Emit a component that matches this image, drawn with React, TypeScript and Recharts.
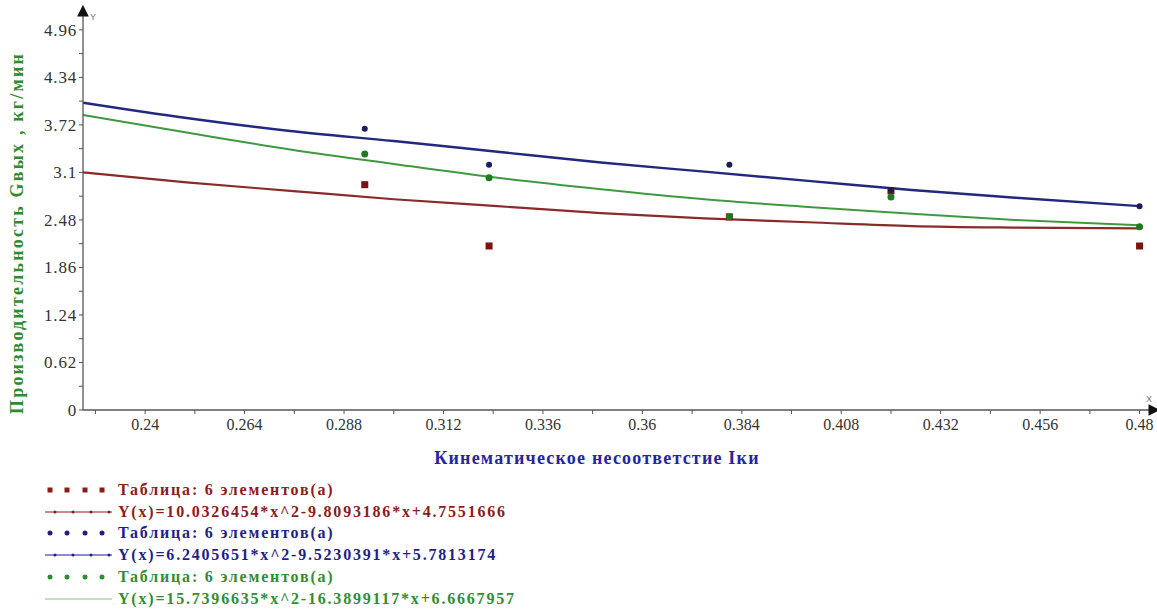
import { ComposedChart, Line, Scatter, XAxis, YAxis } from 'recharts';

// fitted curves
const xFit = [0.225, 0.25, 0.275, 0.3, 0.325, 0.35, 0.375, 0.4, 0.425, 0.45, 0.48];
const redFit = [3.1, 2.97, 2.86, 2.75, 2.66, 2.57, 2.5, 2.45, 2.4, 2.38, 2.37];
const blueFit = [4.01, 3.81, 3.64, 3.51, 3.37, 3.23, 3.11, 2.99, 2.87, 2.77, 2.66];
const greenFit = [3.85, 3.62, 3.4, 3.21, 3.03, 2.88, 2.75, 2.65, 2.56, 2.48, 2.41];

// measured points (tables)
const xPts = [0.293, 0.323, 0.381, 0.42, 0.48];
const redPts = [2.94, 2.14, 2.52, 2.86, 2.14];
const bluePts = [3.67, 3.2, 3.2, 2.87, 2.66];
const greenPts = [3.34, 3.03, 2.52, 2.78, 2.39];

const yTickLabels = ['0', '0.62', '1.24', '1.86', '2.48', '3.1', '3.72', '4.34', '4.96'];
const xTickLabels = ['0.24', '0.264', '0.288', '0.312', '0.336', '0.36', '0.384', '0.408', '0.432', '0.456', '0.48'];

const legendLabels = [
  'Таблица: 6 элементов(а)',
  'Y(x)=10.0326454*x^2-9.8093186*x+4.7551666',
  'Таблица: 6 элементов(а)',
  'Y(x)=6.2405651*x^2-9.5230391*x+5.7813174',
  'Таблица: 6 элементов(а)',
  'Y(x)=15.7396635*x^2-16.3899117*x+6.6667957',
];

const RED = '#8a2a2a';
const BLUE = '#23287e';
const GREEN = '#3f9a3f';
const SERIF = '"Liberation Serif", "Times New Roman", serif';

const toRows = (xs: number[], ys: number[]) => xs.map((x, i) => ({ x, y: ys[i] }));

const yMajor = yTickLabels.map(Number);
const yTicks: number[] = [];
yMajor.forEach((v, i) => {
  yTicks.push(v);
  if (i < yMajor.length - 1) yTicks.push(+((v + yMajor[i + 1]) / 2).toFixed(3));
});
const xMajor = xTickLabels.map(Number);
const xTicks: number[] = [0.228];
xMajor.forEach((v, i) => {
  xTicks.push(v);
  if (i < xMajor.length - 1) xTicks.push(+((v + xMajor[i + 1]) / 2).toFixed(3));
});

const fmt = (labels: string[], v: number) => {
  const i = labels.findIndex((l) => Math.abs(Number(l) - v) < 1e-6);
  return i >= 0 ? labels[i] : '';
};

const XTick = (p: any) => (
  <text x={p.x} y={p.y} dy="0.75em" textAnchor="middle" fontFamily={SERIF} fontSize={16} fill="#333">
    {fmt(xTickLabels, p.payload.value)}
  </text>
);
const YTick = (p: any) => (
  <text x={p.x} y={p.y} dy="0.35em" textAnchor="end" fontFamily={SERIF} fontSize={17} letterSpacing={0.8} fill="#333">
    {fmt(yTickLabels, p.payload.value)}
  </text>
);

const SquareDot = (p: any) => <rect x={p.cx - 3.5} y={p.cy - 3.5} width={7} height={7} fill="#7a1212" />;
const BlueDot = (p: any) => <circle cx={p.cx} cy={p.cy} r={3} fill="#1b1b5e" />;
const GreenDot = (p: any) => <circle cx={p.cx} cy={p.cy} r={3.5} fill="#1f7a1f" />;

const legendColors = ['#8b1c1c', '#8b1c1c', '#1f1f8a', '#1f1f8a', '#2f8f2f', '#2f8f2f'];

const LegendSymbol = ({ row }: { row: number }) => {
  const c = legendColors[row];
  if (row % 2 === 0) {
    return (
      <svg width={70} height={10}>
        {[7, 24, 42, 59].map((cx) =>
          row === 0 ? (
            <rect key={cx} x={cx - 2.5} y={2.5} width={5} height={5} fill={c} />
          ) : (
            <circle key={cx} cx={cx} cy={5} r={2.5} fill={c} />
          )
        )}
      </svg>
    );
  }
  if (row === 5) {
    return (
      <svg width={70} height={10}>
        <line x1={2} y1={5} x2={69} y2={5} stroke="#a8d8a8" strokeWidth={1.5} />
      </svg>
    );
  }
  return (
    <svg width={70} height={10}>
      <line x1={2} y1={5} x2={69} y2={5} stroke={c} strokeWidth={1.2} />
      {[12, 30, 48, 66].map((cx) => (
        <circle key={cx} cx={cx} cy={5} r={1.5} fill={c} />
      ))}
    </svg>
  );
};

const App = () => {
  return (
    <div style={{ position: 'absolute', left: 0, top: 0, width: 1157, height: 612, background: '#fff', fontFamily: SERIF }}>
      <ComposedChart width={1157} height={612} margin={{ top: 13, right: 5, left: 0, bottom: 0 }}>
        <defs>
          <marker id="arr" viewBox="0 0 10 10" refX="3" refY="5" markerWidth="9" markerHeight="9" orient="auto-start-reverse">
            <path d="M0,0 L10,5 L0,10 z" fill="#111" />
          </marker>
        </defs>
        <XAxis
          type="number"
          dataKey="x"
          domain={[0.225, 0.483]}
          allowDataOverflow
          ticks={xTicks}
          interval={0}
          height={202}
          tickSize={4}
          tickMargin={4}
          tick={XTick}
          axisLine={{ stroke: '#555', strokeWidth: 1.3, markerEnd: 'url(#arr)' }}
          tickLine={{ stroke: '#555' }}
          label={{
            content: () => (
              <text
                x={597}
                y={464}
                textAnchor="middle"
                fontFamily={SERIF}
                fontSize={18}
                fontWeight="bold"
                letterSpacing={1.2}
                fill="#2424a8"
              >
                Кинематическое несоответстие Iки
              </text>
            ),
          }}
        />
        <YAxis
          type="number"
          domain={[0, 5.18]}
          allowDataOverflow
          ticks={yTicks}
          interval={0}
          width={83}
          tickSize={4}
          tickMargin={2}
          tick={YTick}
          axisLine={{ stroke: '#555', strokeWidth: 1.3, markerStart: 'url(#arr)' }}
          tickLine={{ stroke: '#555' }}
          label={{
            content: () => (
              <text
                x={23}
                y={233}
                textAnchor="middle"
                transform="rotate(-90 23 233)"
                fontFamily={SERIF}
                fontSize={18}
                fontWeight="bold"
                letterSpacing={2.2}
                fill="#2e8b2e"
              >
                Производительность Gвых , кг/мин
              </text>
            ),
          }}
        />
        <text x={90} y={20} fontFamily="Liberation Sans" fontSize={9} fill="#777">
          Y
        </text>
        <text x={1146} y={402} fontFamily="Liberation Sans" fontSize={9} fill="#777">
          X
        </text>
        <Line data={toRows(xFit, redFit)} dataKey="y" type="monotone" stroke={RED} strokeWidth={2.2} dot={false} isAnimationActive={false} />
        <Line data={toRows(xFit, blueFit)} dataKey="y" type="monotone" stroke={BLUE} strokeWidth={2.4} dot={false} isAnimationActive={false} />
        <Line data={toRows(xFit, greenFit)} dataKey="y" type="monotone" stroke={GREEN} strokeWidth={2} dot={false} isAnimationActive={false} />
        <Scatter data={toRows(xPts, redPts)} dataKey="y" shape={SquareDot} isAnimationActive={false} />
        <Scatter data={toRows(xPts, bluePts)} dataKey="y" shape={BlueDot} isAnimationActive={false} />
        <Scatter data={toRows(xPts, greenPts)} dataKey="y" shape={GreenDot} isAnimationActive={false} />
      </ComposedChart>
      <div style={{ position: 'absolute', left: 43, top: 479 }}>
        {legendLabels.map((label, i) => (
          <div key={i} style={{ display: 'flex', alignItems: 'center', height: 21.8 }}>
            <LegendSymbol row={i} />
            <span
              style={{
                marginLeft: 5,
                fontFamily: SERIF,
                fontWeight: 'bold',
                fontSize: 16,
                letterSpacing: 1.8,
                color: legendColors[i],
                whiteSpace: 'nowrap',
              }}
            >
              {label}
            </span>
          </div>
        ))}
      </div>
    </div>
  );
};

export default App;
